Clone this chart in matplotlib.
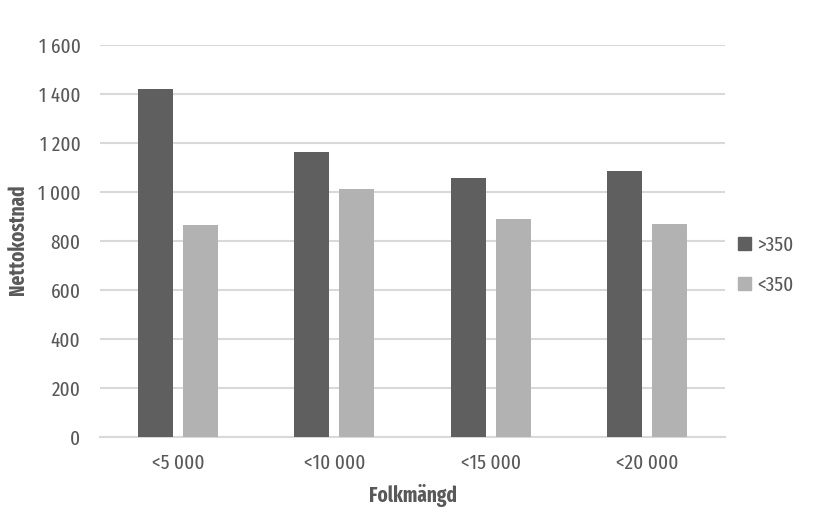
import matplotlib
matplotlib.use("Agg")
import matplotlib.pyplot as plt
import numpy as np
from matplotlib.patches import Patch

categories = ["<5 000", "<10 000", "<15 000", "<20 000"]
over350 = [1420, 1162, 1058, 1084]
under350 = [866, 1011, 891, 871]
yticks = [0, 200, 400, 600, 800, 1000, 1200, 1400, 1600]
ytick_labels = ["0", "200", "400", "600", "800", "1 000", "1 200", "1 400", "1 600"]

plt.rcParams['font.family'] = ['Fira Sans Extra Condensed', 'DejaVu Sans']

fig = plt.figure(figsize=(8.13, 5.21), dpi=100)
ax = fig.add_axes([100/813, 1-437/521, 625/813, 392/521])

x = np.arange(len(categories))
w = 0.225
off = 0.144
dark = "#5f5f5f"
light = "#b2b2b2"
txt = "#595959"
fs = 15
ax.bar(x - off, over350, width=w, color=dark, zorder=3, label=">350")
ax.bar(x + off, under350, width=w, color=light, zorder=3, label="<350")

ax.set_xlim(-0.5, 3.5)
ax.set_ylim(0, 1600)
ax.set_yticks(yticks)
ax.set_yticklabels(ytick_labels)
ax.set_xticks(x)
ax.set_xticklabels(categories)
ax.grid(axis='y', color="#d9d9d9", linewidth=1.5, zorder=0)
for s in ["top", "right", "left"]:
    ax.spines[s].set_visible(False)
ax.spines["bottom"].set_color("#d9d9d9")
ax.spines["bottom"].set_linewidth(1.5)
ax.tick_params(axis='both', length=0, labelsize=fs, labelcolor=txt)
ax.tick_params(axis='y', pad=14)
ax.tick_params(axis='x', pad=12)
ax.set_xlabel("Folkmängd", fontsize=fs, fontweight='bold', color=txt, labelpad=8)
fig.text(18/813, 1-240/521, "Nettokostnad", rotation=90, fontsize=fs, fontweight='bold',
         color=txt, ha='center', va='center')

handles = [Patch(color=dark, label=">350"), Patch(color=light, label="<350")]
fig.legend(handles=handles, loc="center left", bbox_to_anchor=(738/813, 1-265/521),
           frameon=False, fontsize=fs, labelcolor=txt, handlelength=0.6,
           handleheight=0.6, handletextpad=0.3, labelspacing=1.0,
           borderpad=0, borderaxespad=0)

fig.savefig("out.png", dpi=100)
